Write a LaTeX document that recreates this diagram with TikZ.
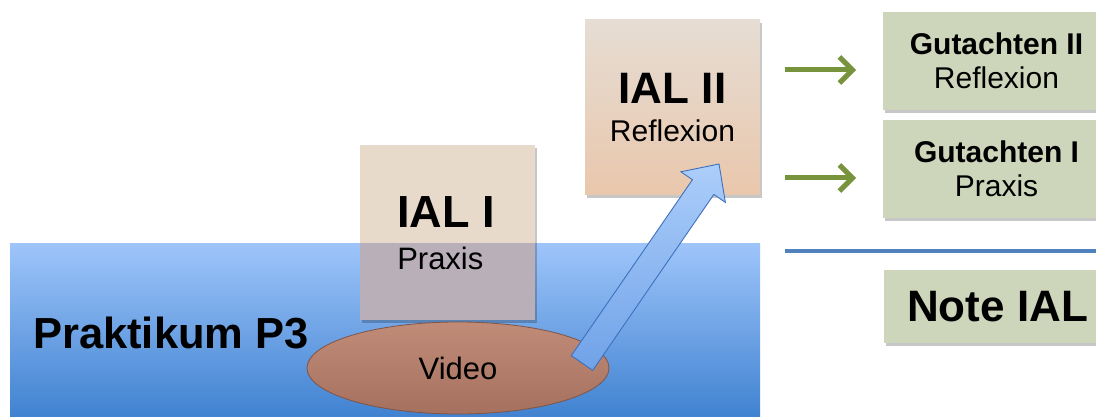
\documentclass[tikz,border=0pt]{standalone}
\usepackage{fontspec}
\setmainfont{Liberation Sans}
\usetikzlibrary{shapes.geometric,arrows.meta,shadows,calc}
\definecolor{bluetop}{RGB}{158,197,250}
\definecolor{bluebot}{RGB}{58,126,206}
\definecolor{peachA}{RGB}{230,221,212}
\definecolor{peachB}{RGB}{233,199,172}
\definecolor{peachI}{RGB}{232,218,202}
\definecolor{grayI}{RGB}{184,175,184}
\definecolor{boxgreen}{RGB}{205,213,186}
\definecolor{arrgreen}{RGB}{119,147,60}
\definecolor{lineblue}{RGB}{79,129,189}
\definecolor{vidA}{RGB}{192,140,120}
\definecolor{vidB}{RGB}{166,112,94}
\definecolor{vidEdge}{RGB}{128,84,70}
\definecolor{arrLight}{RGB}{172,206,250}
\definecolor{arrDark}{RGB}{112,162,232}
\definecolor{arrEdge}{RGB}{62,112,192}
\begin{document}
\begin{tikzpicture}[x=1pt,y=-1pt,
  shad/.style={drop shadow={opacity=0.22,shadow xshift=2pt,shadow yshift=-3pt,fill=black}},
  sqbox/.style={minimum width=175pt,minimum height=175pt,inner sep=0pt,shad},
  gbox/.style={fill=boxgreen,minimum width=227pt,inner sep=0pt,shad,align=center},
  garrow/.style={draw=arrgreen,line width=5pt,-{Straight Barb[length=13pt,width=26pt]}},
]
\useasboundingbox (0,0) rectangle (1096,417);

% Praktikum area
\node[shade,top color=bluetop,bottom color=bluebot,minimum width=750pt,minimum height=185pt,
      inner sep=0pt,anchor=north west] (p3) at (10,243) {};
\node[font=\bfseries\fontsize{43.5}{44}\selectfont,anchor=west,inner sep=0pt] (p3t) at (33,333) {Praktikum P3};

% IAL I
\node[sqbox,fill=peachI,
      path picture={\fill[grayI] (path picture bounding box.south west) rectangle (path picture bounding box.east |- p3.north);}]
      (ial1) at (447.5,232.5) {};
\node[align=left,inner sep=0pt,font=\fontsize{31}{42}\selectfont] (ial1t) at (446,233)
  {{\bfseries\fontsize{45}{42}\selectfont IAL I}\\Praxis};

% Video
\node[ellipse,shade,top color=vidA,bottom color=vidB,draw=vidEdge,line width=0.8pt,
      minimum width=302pt,minimum height=92pt,font=\fontsize{31}{31}\selectfont]
      (video) at (458,368) {Video};

% IAL II
\node[sqbox,shade,top color=peachA,bottom color=peachB,align=center,font=\fontsize{30}{37.5}\selectfont]
  (ial2) at (672.5,107.5)
  {{\bfseries\fontsize{44}{37.5}\selectfont IAL II}\\Reflexion};

% blue arrow from video to IAL II
\coordinate (atail) at (582,363);
\coordinate (atip) at (719,164);
\begin{scope}[shift={(atail)},rotate=55.45,y=1pt]
  \shade[top color=arrLight,bottom color=arrDark,draw=arrEdge,line width=0.9pt,line join=miter]
    (0,-13) -- (213.6,-13) -- (213.6,-27) -- (241.6,0) -- (213.6,27) -- (213.6,13) -- (0,13) -- cycle;
\end{scope}

% green boxes
\node[gbox,minimum height=98pt,font=\fontsize{30}{34}\selectfont] (g2) at (996.5,61)
  {{\bfseries Gutachten II}\\Reflexion};
\node[gbox,minimum height=98pt,font=\fontsize{30}{34}\selectfont] (g1) at (996.5,169)
  {{\bfseries Gutachten I}\\Praxis};
\node[gbox,minimum height=73pt,font=\bfseries\fontsize{44}{44}\selectfont] (note) at (997.5,306.5) {Note IAL};

% green arrows
\coordinate (ga1s) at (785,70);  \coordinate (ga1e) at (856,70);
\coordinate (ga2s) at (785,178); \coordinate (ga2e) at (856,178);
\draw[garrow] (ga1s) -- (ga1e);
\draw[garrow] (ga2s) -- (ga2e);

% separating line
\coordinate (ls) at (785,251); \coordinate (le) at (1100,251);
\draw[lineblue,line width=4.5pt,shad] (ls) -- (le);
\end{tikzpicture}
\end{document}
